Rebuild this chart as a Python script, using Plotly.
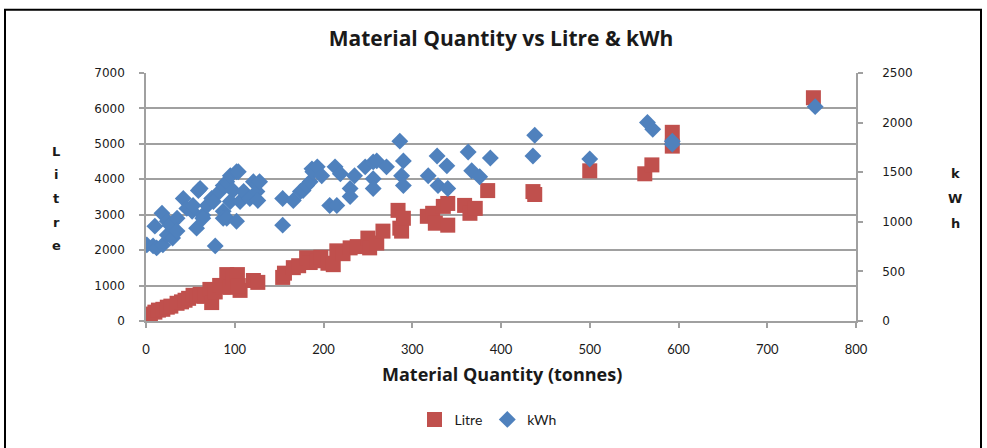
import plotly.graph_objects as go

# Material quantity (tonnes) against fuel use in litres
litre_qty = [2, 5, 10, 14, 19, 24, 28, 35, 40, 44, 48, 53, 57, 61, 66, 72, 74, 78, 83, 87,
             91, 95, 98, 103, 106, 104, 121, 126, 154, 156, 166, 172, 181, 185, 193, 197,
             205, 211, 215, 222, 230, 238, 250, 252, 260, 267, 284, 286, 288, 290, 317,
             323, 326, 335, 340, 340, 359, 365, 371, 385, 436, 438, 500, 562, 570, 593,
             593, 752]
litre_val = [112, 195, 250, 307, 330, 390, 420, 500, 540, 586, 640, 725, 700, 753, 700, 892,
             520, 820, 1004, 960, 1310, 950, 1200, 1310, 864, 1000, 1143, 1090, 1230, 1350,
             1506, 1560, 1785, 1650, 1700, 1800, 1630, 1590, 1980, 1900, 2064, 2100, 2340,
             2064, 2200, 2537, 3123, 2620, 2537, 2900, 2955, 3040, 2760, 3235, 3318, 2705,
             3263, 3040, 3179, 3681, 3653, 3570, 4239, 4155, 4406, 5326, 4936, 6302]

# Material quantity (tonnes) against electricity use in kWh
kwh_qty = [1, 8, 12, 19, 10, 18, 24, 24, 27, 30, 35, 35, 42, 46, 52, 53, 57, 59, 61, 64,
           64, 69, 74, 76, 78, 83, 87, 87, 87, 91, 91, 95, 95, 98, 102, 102, 104, 106, 110,
           117, 121, 125, 126, 128, 154, 154, 166, 174, 177, 181, 185, 187, 188, 193, 198,
           207, 215, 213, 219, 230, 230, 235, 247, 256, 256, 256, 260, 271, 286, 290, 288,
           290, 318, 328, 329, 339, 340, 363, 367, 376, 388, 436, 438, 500, 565, 571, 593,
           593, 754]
kwh_val = [767, 757, 737, 767, 956, 1086, 1006, 867, 966, 837, 1036, 906, 1235, 1135, 1106,
           1165, 936, 1315, 1335, 1066, 1036, 1165, 1235, 1205, 757, 1305, 1106, 1036, 1365,
           1404, 1036, 1205, 1464, 1315, 1006, 1504, 1504, 1205, 1305, 1235, 1404, 1305,
           1215, 1404, 1235, 966, 1215, 1305, 1315, 1365, 1404, 1534, 1504, 1554, 1464, 1165,
           1165, 1554, 1484, 1335, 1255, 1464, 1554, 1604, 1434, 1335, 1614, 1554, 1813,
           1614, 1464, 1365, 1464, 1663, 1365, 1564, 1335, 1703, 1514, 1454, 1643, 1663,
           1873, 1633, 2002, 1932, 1813, 1783, 2161]

x_ticks = [0, 100, 200, 300, 400, 500, 600, 700, 800]
litre_ticks = [0, 1000, 2000, 3000, 4000, 5000, 6000, 7000]
kwh_ticks = [0, 500, 1000, 1500, 2000, 2500]

RED = "#C0504D"
BLUE = "#4F81BD"
GRID = "#A0A0A0"
LABEL_FONT = "Lato, 'Open Sans', sans-serif"
TITLE_FONT = "'Open Sans', Lato, sans-serif"
NUM_FONT = "'DejaVu Sans', Verdana, sans-serif"
INK = "#1a1a1a"

fig = go.Figure()
fig.add_trace(go.Scatter(
    x=litre_qty, y=litre_val, mode="markers", name="Litre",
    marker=dict(symbol="square", size=15, color=RED, line=dict(width=0)),
    yaxis="y",
))
fig.add_trace(go.Scatter(
    x=kwh_qty, y=kwh_val, mode="markers", name="kWh",
    marker=dict(symbol="diamond", size=13, color=BLUE, line=dict(width=0)),
    yaxis="y2",
))

axis_common = dict(
    showline=True, linecolor=GRID, linewidth=1.5,
    ticks="outside", ticklen=5, tickcolor=GRID, tickwidth=1.5,
    zeroline=False,
)

fig.update_layout(
    width=987, height=448,
    margin=dict(l=146, r=131, t=73, b=124),
    paper_bgcolor="white", plot_bgcolor="white",
    showlegend=True,
    title=dict(
        text="<b>Material Quantity vs Litre &amp; kWh</b>",
        x=(146 + 856) / 2 / 987, xanchor="center",
        y=1 - 39 / 448, yanchor="middle",
        font=dict(family=TITLE_FONT, size=21, color=INK),
    ),
    xaxis=dict(
        range=[0, 800], tickvals=x_ticks, showgrid=False,
        tickfont=dict(family=LABEL_FONT, size=13, color=INK),
        ticklabelstandoff=11,
        **axis_common,
    ),
    yaxis=dict(
        range=[0, 7000], tickvals=litre_ticks, showgrid=True,
        gridcolor=GRID, gridwidth=1.5,
        tickfont=dict(family=NUM_FONT, size=12, color=INK),
        ticklabelstandoff=12,
        **axis_common,
    ),
    yaxis2=dict(
        range=[0, 2500], tickvals=kwh_ticks, overlaying="y", side="right",
        showgrid=False,
        tickfont=dict(family=NUM_FONT, size=12, color=INK),
        ticklabelstandoff=17,
        **axis_common,
    ),
    legend=dict(
        orientation="h", x=(488 - 146) / 710, xanchor="center",
        y=(324 - 424) / 251, yanchor="middle",
        font=dict(family=LABEL_FONT, size=14, color=INK),
        itemwidth=30, bgcolor="rgba(0,0,0,0)",
    ),
)

# Axis titles
annotations = [
    dict(text="<b>Material Quantity (tonnes)</b>", x=(502 - 146) / 710, y=(324 - 378) / 251,
         xref="paper", yref="paper", showarrow=False, xanchor="center", yanchor="middle",
         font=dict(family=TITLE_FONT, size=18, color=INK)),
]
# Vertical stacked letters for the two value axes
for i, ch in enumerate("Litre"):
    annotations.append(dict(
        text=f"<b>{ch}</b>", x=(56 - 146) / 710, y=(324 - (152 + 24 * i)) / 251,
        xref="paper", yref="paper", showarrow=False, xanchor="center", yanchor="middle",
        font=dict(family=NUM_FONT, size=13, color=INK)))
for i, ch in enumerate("kWh"):
    annotations.append(dict(
        text=f"<b>{ch}</b>", x=(955 - 146) / 710, y=(324 - (175 + 25 * i)) / 251,
        xref="paper", yref="paper", showarrow=False, xanchor="center", yanchor="middle",
        font=dict(family=NUM_FONT, size=13, color=INK)))
fig.update_layout(annotations=annotations)

# Outer chart border
fig.add_shape(type="rect", xref="paper", yref="paper",
              x0=(5 - 146) / 710, x1=(981 - 146) / 710,
              y0=(324 - 470) / 251, y1=(324 - 9) / 251,
              line=dict(color="black", width=2), fillcolor="rgba(0,0,0,0)", layer="below")

fig.write_html("out.html")
